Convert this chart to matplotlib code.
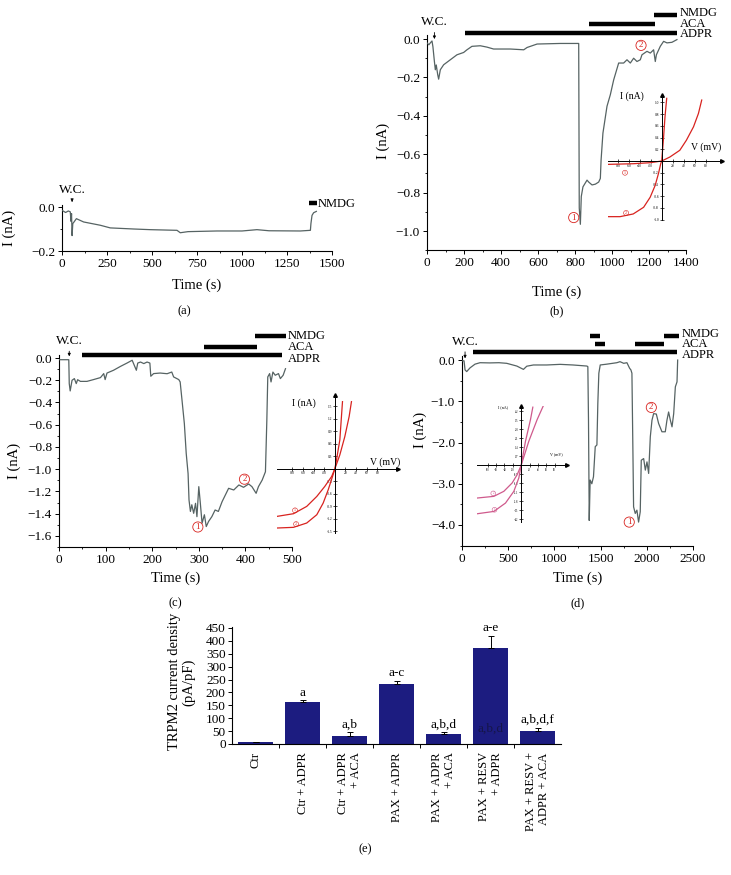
import matplotlib
matplotlib.use("Agg")
import matplotlib.pyplot as plt
from matplotlib.ticker import MultipleLocator, FixedLocator

W, H = 731, 875
TRACE = "#566363"
RED = "#d8231f"
PINK = "#cf5a8c"
NAVY = "#1c1c80"

# ---- panel (a): whole-cell current, no ADPR ----
a_time = [0, 20, 35, 46, 50, 53, 56, 60, 65, 80, 120, 213, 268, 398, 490,
          639, 657, 700, 861, 1000, 1083, 1150, 1324, 1380, 1383, 1389, 1398, 1413]
a_curr = [-0.015, -0.025, -0.018, -0.022, -0.065, -0.03, -0.13, -0.075, -0.07, -0.053,
          -0.068, -0.083, -0.095, -0.10, -0.103, -0.106, -0.117, -0.112, -0.109, -0.109,
          -0.103, -0.108, -0.109, -0.106, -0.075, -0.038, -0.026, -0.02]

# ---- panel (b) ----
b_time = [0, 10, 18, 27, 32, 40, 45, 50, 58, 63, 72, 90, 126, 162, 198,
          216, 243, 288, 324, 360, 450, 523, 541, 595, 721, 820, 823, 829, 834, 843,
          865, 874, 892, 910, 928, 937, 941, 951, 973, 991, 1009, 1036, 1063, 1081, 1099,
          1117, 1135, 1153, 1162, 1189, 1207, 1225, 1234, 1240, 1261, 1279, 1297, 1324, 1351]
b_curr = [-0.02, -0.03, -0.02, -0.01, -0.04, -0.117, -0.16, -0.135, -0.186, -0.209,
          -0.16, -0.134, -0.108, -0.082, -0.07, -0.056, -0.038, -0.035, -0.042, -0.052,
          -0.052, -0.056, -0.044, -0.026, -0.023, -0.023, -0.88, -0.965, -0.82, -0.77,
          -0.735, -0.745, -0.76, -0.756, -0.745, -0.726, -0.63, -0.49, -0.35, -0.29,
          -0.213, -0.125, -0.125, -0.108, -0.125, -0.1, -0.117, -0.108, -0.082, -0.064,
          -0.073, -0.056, -0.117, -0.082, -0.038, -0.012, -0.02, -0.017, -0.003]

# ---- panel (c) ----
c_time = [0, 21, 22, 24, 28, 33, 37, 40, 46, 60, 74, 89, 96, 99, 103,
          117, 132, 146, 157, 160, 166, 169, 175, 182, 189, 195, 197, 203, 217, 232,
          242, 246, 257, 260, 264, 269, 273, 277, 279, 282, 285, 289, 293, 296, 300,
          303, 307, 312, 316, 321, 328, 335, 342, 350, 357, 364, 375, 386, 396, 407,
          414, 423, 428, 436, 443, 446, 448, 452, 455, 459, 464, 471, 475, 481, 486]
c_curr = [-0.015, -0.015, -0.23, -0.296, -0.2, -0.185, -0.23, -0.195, -0.21, -0.21,
          -0.194, -0.176, -0.14, -0.194, -0.135, -0.11, -0.075, -0.045, -0.02, -0.05,
          -0.11, -0.045, -0.036, -0.05, -0.036, -0.045, -0.164, -0.14, -0.135, -0.141,
          -0.126, -0.17, -0.194, -0.215, -0.38, -0.59, -0.858, -1.04, -1.277, -1.38,
          -1.32, -1.397, -1.307, -1.427, -1.157, -1.292, -1.486, -1.41, -1.516, -1.47,
          -1.427, -1.367, -1.38, -1.292, -1.232, -1.172, -1.187, -1.142, -1.163, -1.133,
          -1.157, -1.217, -1.157, -1.098, -1.023, -0.56, -0.17, -0.14, -0.215, -0.126,
          -0.155, -0.14, -0.185, -0.155, -0.096]

# ---- panel (d) ----
d_time = [0, 22, 33, 51, 87, 141, 195, 300, 400, 484, 593, 665, 701, 773, 918,
          1062, 1200, 1351, 1362, 1369, 1377, 1387, 1405, 1423, 1442, 1460, 1470, 1481, 1496, 1568,
          1676, 1710, 1750, 1785, 1814, 1828, 1839, 1850, 1857, 1875, 1893, 1911, 1929, 1940, 1966,
          1984, 2002, 2020, 2038, 2056, 2074, 2103, 2128, 2164, 2200, 2218, 2236, 2255, 2273, 2291,
          2309, 2327, 2334]
d_curr = [-0.02, -0.02, -0.24, -0.28, -0.19, -0.1, -0.065, -0.07, -0.065, -0.08,
          -0.146, -0.227, -0.15, -0.12, -0.12, -0.105, -0.12, -0.146, -0.16, -1.46,
          -3.89, -2.91, -3.0, -2.83, -2.1, -2.06, -1.05, -0.32, -0.12, -0.1,
          -0.065, -0.04, -0.08, -0.065, -0.2, -0.24, -0.32, -2.27, -3.56, -3.72,
          -3.64, -3.93, -3.68, -2.43, -2.39, -2.67, -2.47, -2.75, -1.86, -1.46,
          -1.30, -1.31, -1.54, -1.74, -1.74, -1.46, -1.26, -1.46, -1.62, -1.30,
          -0.65, -0.53, 0.0]

# solution application bars: (name, start, end, level)
a_sol = [("NMDG", 1370, 1417, 0.018)]
b_sol = [("NMDG", 1225, 1351, 0.127), ("ACA", 874, 1231, 0.078), ("ADPR", 207, 1351, 0.031)]
c_sol = [("NMDG", 420, 488, 0.197), ("ACA", 312, 425, 0.099), ("ADPR", 49, 478, 0.024)]
d_sol = [("NMDG", 1387, 1489, 0.59), ("NMDG", 2182, 2345, 0.59),
         ("ACA", 1434, 1550, 0.38), ("ACA", 1875, 2190, 0.38), ("ADPR", 123, 2327, 0.19)]
a_sol_lab = [("NMDG", 0.015)]
b_sol_lab = [("NMDG", 0.138), ("ACA", 0.08), ("ADPR", 0.024)]
c_sol_lab = [("NMDG", 0.2), ("ACA", 0.099), ("ADPR", -0.008)]
d_sol_lab = [("NMDG", 0.64), ("ACA", 0.38), ("ADPR", 0.11)]

# I-V insets
b_iv_v1 = [-97, -76, -52, -33, -21, -12, -6, -1.8, 0, 3, 6, 9.1]
b_iv_i1 = [-0.949, -0.949, -0.903, -0.789, -0.617, -0.417, -0.217, -0.046, 0, 0.354, 0.754, 1.069]
b_iv_v2 = [-97, -52, -21, 0, 15, 33, 45, 58, 67, 73]
b_iv_i2 = [-0.057, -0.046, -0.029, 0, 0.069, 0.183, 0.354, 0.583, 0.811, 1.04]
c_iv_v1 = [-109, -78, -53, -34, -19, -6, 0, 9.4, 18.8, 26.9, 31.3]
c_iv_i1 = [-1.144, -1.08, -0.904, -0.664, -0.424, -0.184, 0, 0.336, 0.776, 1.256, 1.616]
c_iv_v2 = [-109, -78, -53, -34, -22, -12.5, -4.4, 0, 3.1, 9.4, 14.4]
c_iv_i2 = [-1.424, -1.408, -1.304, -1.104, -0.824, -0.504, -0.184, 0, 0.216, 0.696, 1.616]
d_iv_v1 = [-105.6, -65.6, -37.6, -17.6, -5.6, 0, 10.4, 22.4, 28]
d_iv_i1 = [-3.76, -3.58, -2.93, -2.02, -0.98, 0, 1.87, 3.55, 4.51]
d_iv_v2 = [-105.6, -65.6, -41.6, -21.6, -9.6, 0, 18.4, 38.4, 52.8]
d_iv_i2 = [-2.54, -2.41, -2.02, -1.37, -0.73, 0, 1.87, 3.55, 4.59]
iv_vticks = [-80, -60, -40, -20, 20, 40, 60, 80]
b_iv_iticks = [-1.0, -0.8, -0.6, -0.4, -0.2, 0.2, 0.4, 0.6, 0.8, 1.0]
c_iv_iticks = [-1.5, -1.2, -0.9, -0.6, -0.3, 0.3, 0.6, 0.9, 1.2, 1.5]
d_iv_iticks = [-4.2, -3.5, -2.8, -2.1, -1.4, -0.7, 0.7, 1.4, 2.1, 2.8, 3.5, 4.2]

# ---- panel (e): current density ----
e_groups = ["Ctr", "Ctr + ADPR", "Ctr + ADPR\n+ ACA", "PAX + ADPR", "PAX + ADPR\n+ ACA",
            "PAX + RESV\n+ ADPR", "PAX + RESV +\nADPR + ACA"]
e_means = [6, 161, 31, 232, 39, 372, 52]
e_err = [2, 10, 14, 13, 9, 48, 12]
e_sig = ["", "a", "a,b", "a-c", "a,b,d", "a-e", "a,b,d,f"]
e_inner = ["", "", "", "", "", "a,b,d", ""]
e_inner_y = 61

plt.rcParams["font.family"] = ["Liberation Serif", "DejaVu Serif"]
plt.rcParams["font.size"] = 9

TICK_FS = 9.5
LAB_FS = 10.5

fig = plt.figure(figsize=(W / 100, H / 100), dpi=100)


def px_rect(l, t, r, b):
    return [l / W, 1 - b / H, (r - l) / W, (b - t) / H]


def trace_axes(rect, t, cur, xlim, ylim, xmaj, xmin, ymaj, ymin, ylab_xy, xlab_y):
    ax = fig.add_axes(px_rect(*rect))
    ax.plot(t, cur, color=TRACE, lw=0.9, zorder=3)
    ax.set_xlim(xlim)
    ax.set_ylim(ylim)
    ax.xaxis.set_major_locator(MultipleLocator(xmaj))
    ax.xaxis.set_minor_locator(MultipleLocator(xmin))
    ax.yaxis.set_major_locator(MultipleLocator(ymaj))
    ax.yaxis.set_minor_locator(MultipleLocator(ymin))
    ax.yaxis.set_major_formatter(plt.FuncFormatter(lambda v, _: f"{v:.1f}".replace("-", "\u2212")))
    ax.tick_params(which="major", direction="out", length=3, width=0.7, labelsize=TICK_FS, pad=2)
    ax.tick_params(which="minor", direction="out", length=1.6, width=0.6)
    for s in ("top", "right"):
        ax.spines[s].set_visible(False)
    for s in ("left", "bottom"):
        ax.spines[s].set_linewidth(0.8)
    ax.patch.set_alpha(0)
    ax.set_ylabel("I (nA)", fontsize=LAB_FS)
    ax.yaxis.set_label_coords(*ylab_xy)
    ax.set_xlabel("Time (s)", fontsize=LAB_FS)
    ax.xaxis.set_label_coords(0.5, xlab_y)
    return ax


def solutions(ax, segs, labs, lab_x):
    for name, t0, t1, lvl in segs:
        ax.plot([t0, t1], [lvl, lvl], color="black", lw=3.2, solid_capstyle="butt",
                clip_on=False, zorder=4)
    for name, lvl in labs:
        ax.text(lab_x, lvl, name, fontsize=9, ha="left", va="center", clip_on=False,
                linespacing=0.9)


def wc(ax, t, tip, ty):
    ax.annotate("W.C.", xy=(t, tip), xytext=(t, ty), ha="center", va="center", fontsize=9.5,
                annotation_clip=False,
                arrowprops=dict(arrowstyle="-|>", lw=0.6, color="black", mutation_scale=4,
                                shrinkA=1, shrinkB=0))


def circled(ax, x, y, s, fs=6.5, color=RED, lw=0.6):
    ax.text(x, y, s, fontsize=fs, color=color, ha="center", va="center", zorder=6,
            bbox=dict(boxstyle="circle,pad=0.12", fc="none", ec=color, lw=lw))


def iv_inset(rect, vlim, ilim, iticks, curves, color, marks, ilab, vlab, fs_lab, fs_tick, fs_mark):
    ax = fig.add_axes(px_rect(*rect))
    ax.patch.set_alpha(0)
    ax.set_xlim(vlim)
    ax.set_ylim(ilim)
    for s in ("top", "right"):
        ax.spines[s].set_visible(False)
    for s in ("left", "bottom"):
        ax.spines[s].set_position(("data", 0))
        ax.spines[s].set_linewidth(0.7)
    ax.plot(1, 0, ">k", ms=2.6, transform=ax.get_yaxis_transform(), clip_on=False)
    ax.plot(0, 1, "^k", ms=2.6, transform=ax.get_xaxis_transform(), clip_on=False)
    ax.xaxis.set_major_locator(FixedLocator(iv_vticks))
    ax.yaxis.set_major_locator(FixedLocator(iticks))
    ax.xaxis.set_major_formatter(plt.FuncFormatter(lambda v, _: f"{v:.0f}"))
    ax.yaxis.set_major_formatter(plt.FuncFormatter(lambda v, _: f"{v:.1f}"))
    ax.tick_params(direction="inout", length=2.2, width=0.5, labelsize=fs_tick, pad=0.8)
    for v, i in curves:
        ax.plot(v, i, color=color, lw=0.9)
    for txt, x, y in marks:
        circled(ax, x, y, txt, fs=fs_mark, color=color, lw=0.4)
    ax.text(*ilab, "I (nA)", fontsize=fs_lab, ha="center", va="center")
    ax.text(*vlab, "V (mV)", fontsize=fs_lab, ha="center", va="center")
    return ax


# (a)
ax_a = trace_axes((62, 204.8, 332, 251), a_time, a_curr, (0, 1500), (-0.2, 0.01),
                  250, 125, 0.2, 0.1, (-0.17, 0.5), -0.6)
solutions(ax_a, a_sol, a_sol_lab, 1420)
wc(ax_a, 56, 0.023, 0.076)

# (b)
ax_b = trace_axes((427, 35.2, 686, 250.2), b_time, b_curr, (0, 1400), (-1.1, 0.02),
                  200, 100, 0.2, 0.1, (-0.143, 0.51), -0.165)
solutions(ax_b, b_sol, b_sol_lab, 1365)
wc(ax_b, 40, 0.0, 0.087)
circled(ax_b, 793, -0.93, "1")
circled(ax_b, 1157, -0.033, "2")
iv_inset((608, 95, 722, 220), (-98, 110), (-1.006, 1.126), b_iv_iticks,
         [(b_iv_v1, b_iv_i1), (b_iv_v2, b_iv_i2)], RED,
         [("1", -67, -0.2), ("2", -65, -0.886)], (-54, 1.1), (81, 0.24), 7, 2.6, 3)

# (c)
ax_c = trace_axes((59, 354.7, 292, 547), c_time, c_curr, (0, 500), (-1.7, 0.03),
                  100, 50, 0.2, 0.1, (-0.163, 0.45), -0.13)
solutions(ax_c, c_sol, c_sol_lab, 491)
wc(ax_c, 22, 0.015, 0.153)
circled(ax_c, 298, -1.52, "1")
circled(ax_c, 398, -1.09, "2")
iv_inset((277, 395, 398, 533), (-109, 119), (-1.544, 1.776), c_iv_iticks,
         [(c_iv_v1, c_iv_i1), (c_iv_v2, c_iv_i2)], RED,
         [("1", -75, -1.0), ("2", -73, -1.33)], (-59, 1.59), (94, 0.16), 7, 2.6, 3)

# (d)
ax_d = trace_axes((462, 355.9, 693, 545.6), d_time, d_curr, (0, 2500), (-4.5, 0.1),
                  500, 250, 1.0, 0.5, (-0.15, 0.61), -0.137)
solutions(ax_d, d_sol, d_sol_lab, 2378)
wc(ax_d, 33, 0.04, 0.445)
circled(ax_d, 1810, -3.93, "1")
circled(ax_d, 2049, -1.15, "2")
iv_inset((477, 406, 567, 522), (-106, 110), (-4.4, 4.6), d_iv_iticks,
         [(d_iv_v1, d_iv_i1), (d_iv_v2, d_iv_i2)], PINK,
         [("1", -64, -3.45), ("2", -67, -2.18)], (-43, 4.5), (85, 0.9), 3, 2, 2.2)

# (e)
ax_e = fig.add_axes(px_rect(232, 626.7, 561, 744))
x = list(range(len(e_groups)))
ax_e.bar(x, e_means, width=0.75, color=NAVY, zorder=2)
ax_e.errorbar(x, e_means, yerr=[[0] * len(e_err), e_err], fmt="none", ecolor="black",
              elinewidth=0.7, capsize=2, capthick=0.7, zorder=3)
for xi, m, er, s in zip(x, e_means, e_err, e_sig):
    if s:
        ax_e.annotate(s, (xi, m + er), xytext=(0, 1), textcoords="offset points",
                      ha="center", va="bottom", fontsize=9.5)
for xi, s in zip(x, e_inner):
    if s:
        ax_e.text(xi, e_inner_y, s, ha="center", va="center", fontsize=9.5, color="#15154a", zorder=4)
ax_e.set_xlim(-0.5, len(e_groups) - 0.5)
ax_e.set_ylim(0, 455)
ax_e.yaxis.set_major_locator(MultipleLocator(50))
ax_e.set_xticks(x)
ax_e.set_xticklabels(e_groups, rotation=90, fontsize=9, multialignment="right")
ax_e.xaxis.set_minor_locator(FixedLocator([k + 0.5 for k in x[:-1]]))
ax_e.tick_params(axis="x", which="major", length=0, pad=6)
ax_e.tick_params(axis="x", which="minor", length=3, width=0.7, direction="out")
ax_e.tick_params(axis="y", length=3, width=0.7, labelsize=TICK_FS, pad=1.5)
for s in ("top", "right"):
    ax_e.spines[s].set_visible(False)
for s in ("left", "bottom"):
    ax_e.spines[s].set_linewidth(0.8)
ax_e.set_ylabel("TRPM2 current density\n(pA/pF)", fontsize=LAB_FS, linespacing=1.1)
ax_e.yaxis.set_label_coords(-0.112, 0.53)

for lab, px, py in [("(a)", 184, 311), ("(b)", 557, 311), ("(c)", 175, 603),
                    ("(d)", 578, 603), ("(e)", 365, 849)]:
    fig.text(px / W, 1 - py / H, lab, ha="center", va="center", fontsize=9)

fig.savefig("out.png", dpi=100)
